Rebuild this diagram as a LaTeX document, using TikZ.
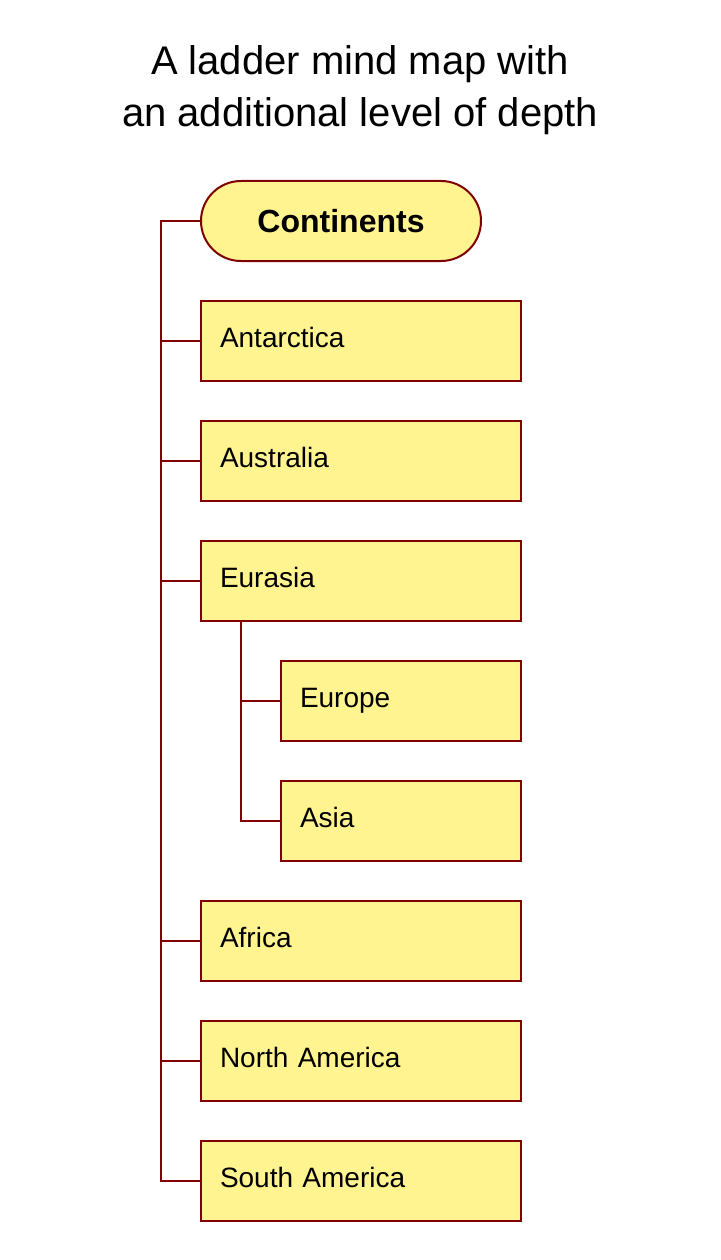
\documentclass[tikz,border=0pt]{standalone}
\usepackage{fontspec}
\setmainfont{Liberation Sans}
\definecolor{boxfill}{HTML}{FFF48F}
\definecolor{boxline}{HTML}{7F0000}
\tikzset{
  topic/.style={draw=boxline, fill=boxfill, line width=2pt, rectangle,
    minimum width=320pt, minimum height=80pt, inner xsep=19pt, inner ysep=0pt,
    text width=282pt, align=left, text height=25pt, text depth=12pt,
    font=\fontsize{28}{34}\selectfont},
  subtopic/.style={topic, minimum width=240pt, text width=202pt},
  root/.style={draw=boxline, fill=boxfill, line width=2pt, rectangle,
    rounded corners=40pt, minimum width=280pt, minimum height=80pt,
    font=\fontsize{32}{38}\selectfont\bfseries},
  link/.style={draw=boxline, line width=2pt}
}

\begin{document}
\begin{tikzpicture}[x=1pt, y=-1pt]
\useasboundingbox (0,0) rectangle (720,1260);
\node[align=center, inner sep=0pt, font=\fontsize{40}{52}\selectfont] (title) at (360,90)
  {A ladder mind map with\\an additional level of depth};
% main topic and its branches
\node[root] (continents) at (341,221) {Continents};
\node[topic] (antarctica) at (361,341) {Antarctica};
\node[topic] (australia) at (361,461) {Australia};
\node[topic] (eurasia) at (361,581) {Eurasia};
\node[subtopic] (europe) at (401,701) {Europe};
\node[subtopic] (asia) at (401,821) {Asia};
\node[topic] (africa) at (361,941) {Africa};
\node[topic] (namerica) at (361,1061) {North America};
\node[topic] (samerica) at (361,1181) {South America};
% ladder
\foreach \c in {antarctica,australia,eurasia,africa,namerica,samerica}
  \draw[link] (continents.west) -- ++(-39,0) |- (\c.west);
\foreach \c in {europe,asia}
  \draw[link] ([xshift=41pt]eurasia.south west) |- (\c.west);
\end{tikzpicture}
\end{document}
